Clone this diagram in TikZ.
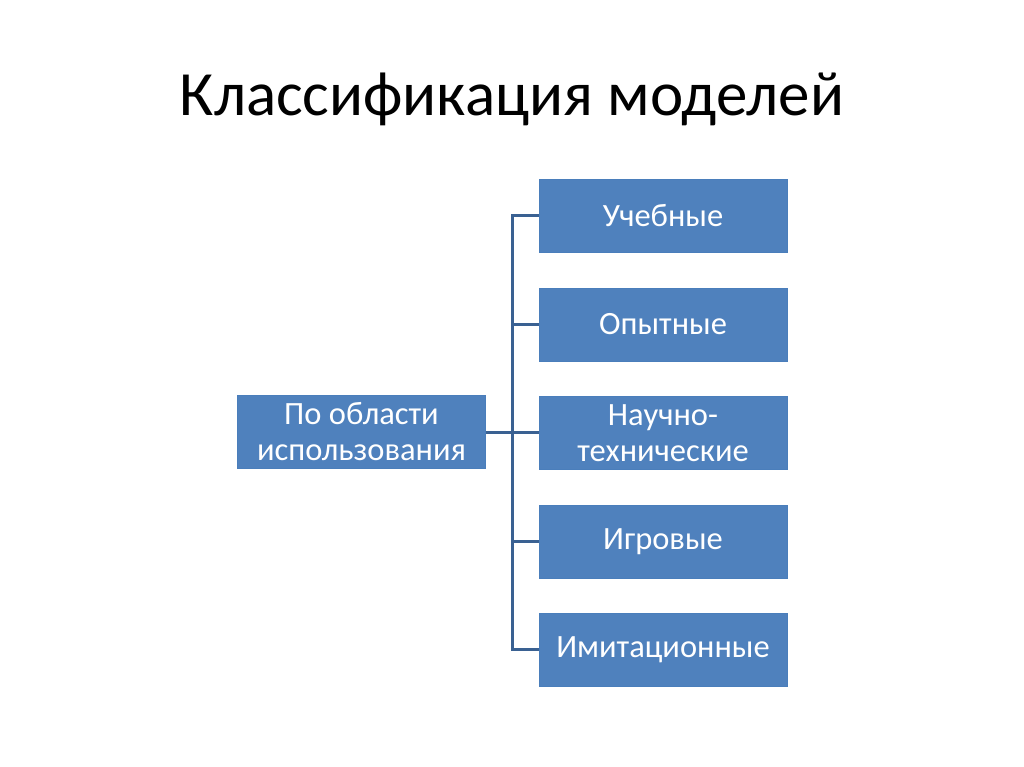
\documentclass[tikz,border=0pt]{standalone}
\usepackage{fontspec}
\setmainfont{Carlito}
\usetikzlibrary{positioning}
\definecolor{boxblue}{HTML}{4F81BD}
\definecolor{boxline}{HTML}{4A7EBB}
\definecolor{linkblue}{HTML}{3A6192}
\tikzset{
    kind/.style={rectangle, draw=boxline, fill=boxblue, text=white,
        minimum width=248pt, minimum height=73pt, inner sep=1pt, align=center,
        font=\fontsize{32.5}{36}\selectfont},
    link/.style={draw=linkblue, line width=3pt}
}
\begin{document}
\begin{tikzpicture}
    \useasboundingbox (0,0) rectangle (1024pt,-767pt);
    \node[anchor=base, font=\fontsize{63}{70}\selectfont] (title) at (512pt,-116pt) {Классификация моделей};
    % root
    \node[kind] (area) at (361.5pt,-432pt) {По области\\использования};
    % kinds of models
    \node[kind] (ucheb) at (663pt,-216pt) {Учебные};
    \node[kind, below=35pt of ucheb] (opyt) {Опытные};
    \node[kind, below=35pt of opyt] (nauch) {Научно-\\технические};
    \node[kind, below=35pt of nauch] (igr) {Игровые};
    \node[kind, below=35pt of igr] (imit) {Имитационные};
    \coordinate (fork) at (512pt,-432pt);
    % bracket
    \draw[link] (area.east) -- (area.east -| nauch.west);
    \draw[link] (ucheb.west) -- (fork |- ucheb.west) -- (fork |- imit.west) -- (imit.west);
    \foreach \n in {opyt,igr}
        \draw[link] (fork |- \n.west) -- (\n.west);
\end{tikzpicture}
\end{document}
